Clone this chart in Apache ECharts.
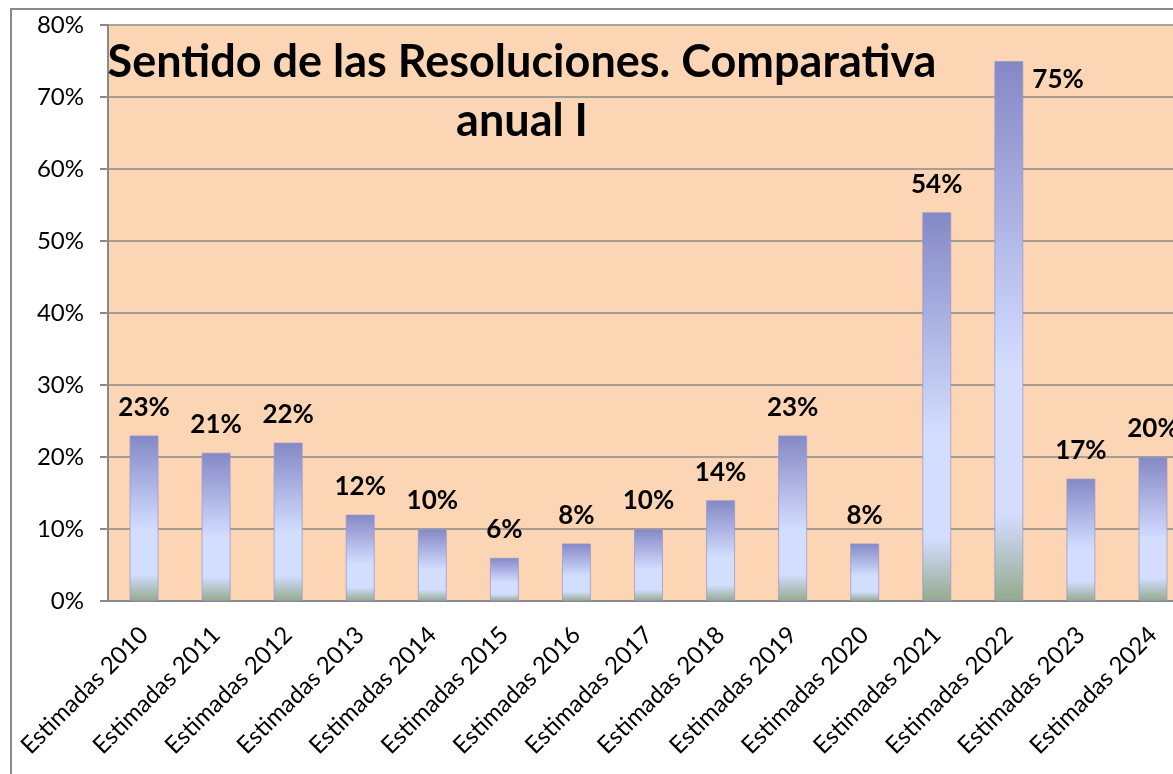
<!doctype html>
<html lang="es">
<head>
  <meta charset="utf-8">
  <title>Sentido de las Resoluciones</title>
  <script src="https://cdn.jsdelivr.net/npm/echarts@6/dist/echarts.min.js"></script>
  <style>
    html, body { margin: 0; padding: 0; background: #fff; overflow: hidden; }
    #frame {
      position: absolute; left: 10px; top: 8px; width: 1200px; height: 800px;
      border-left: 2px solid #8a8a8a; border-top: 2px solid #8a8a8a;
    }
    #chart { position: absolute; left: 0; top: 0; width: 1191px; height: 774px; }
  </style>
</head>
<body>
  <div id="frame"></div>
  <div id="chart"></div>
  <script>
    // datos
    const categories = ['Estimadas 2010', 'Estimadas 2011', 'Estimadas 2012', 'Estimadas 2013',
      'Estimadas 2014', 'Estimadas 2015', 'Estimadas 2016', 'Estimadas 2017', 'Estimadas 2018',
      'Estimadas 2019', 'Estimadas 2020', 'Estimadas 2021', 'Estimadas 2022', 'Estimadas 2023',
      'Estimadas 2024'];
    const values = [23, 20.6, 22, 12, 10, 6, 8, 10, 14, 23, 8, 54, 75, 17, 20];
    const titleLines = ['Sentido de las Resoluciones. Comparativa', 'anual I'];

    const font = 'Lato, "Open Sans", sans-serif';
    const barColor = new echarts.graphic.LinearGradient(0, 0, 0, 1, [
      { offset: 0, color: '#8488c6' },
      { offset: 0.57, color: '#d3ddff' },
      { offset: 0.84, color: '#d3ddff' },
      { offset: 1, color: '#93ab8e' }
    ]);

    const data = values.map((v, i) => {
      const item = { value: v };
      if (i === 12) {
        // la etiqueta del 75% va a la derecha de la barra
        item.label = { position: [38, 6], align: 'left', verticalAlign: 'top' };
      }
      return item;
    });

    const chart = echarts.init(document.getElementById('chart'));
    chart.setOption({
      animation: false,
      textStyle: { fontFamily: font },
      title: {
        text: titleLines.join('\n'),
        left: 517,
        top: 28,
        textAlign: 'center',
        textStyle: { fontFamily: font, fontSize: 45, fontWeight: 'bold', color: '#000', lineHeight: 59 },
        z: 10
      },
      grid: { left: 108, right: 2, top: 25, bottom: 173, show: true, backgroundColor: '#fcd5b5', borderWidth: 0 },
      xAxis: {
        type: 'category',
        data: categories,
        axisLine: { lineStyle: { color: '#8a8a8a', width: 2 } },
        axisTick: { length: 8, lineStyle: { color: '#8a8a8a', width: 2 } },
        axisLabel: { rotate: 45, fontSize: 24, color: '#000', margin: 30, fontFamily: font, interval: 0 }
      },
      yAxis: {
        type: 'value',
        min: 0, max: 80, interval: 10,
        axisLine: { show: true, lineStyle: { color: '#8a8a8a', width: 2 } },
        axisTick: { show: true, length: 8, lineStyle: { color: '#8a8a8a', width: 2 } },
        axisLabel: { formatter: '{value}%', fontSize: 24, color: '#000', margin: 24, fontFamily: font },
        splitLine: { lineStyle: { color: '#8a8a8a', width: 1.5 } }
      },
      series: [{
        type: 'bar',
        data: data,
        barWidth: 29,
        itemStyle: { color: barColor, borderColor: 'rgba(150,150,200,0.7)', borderWidth: 1 },
        label: {
          show: true,
          position: 'top',
          distance: 15,
          formatter: p => Math.round(p.value) + '%',
          fontSize: 26,
          fontWeight: 'bold',
          color: '#000',
          fontFamily: font
        }
      }]
    });
  </script>
</body>
</html>
